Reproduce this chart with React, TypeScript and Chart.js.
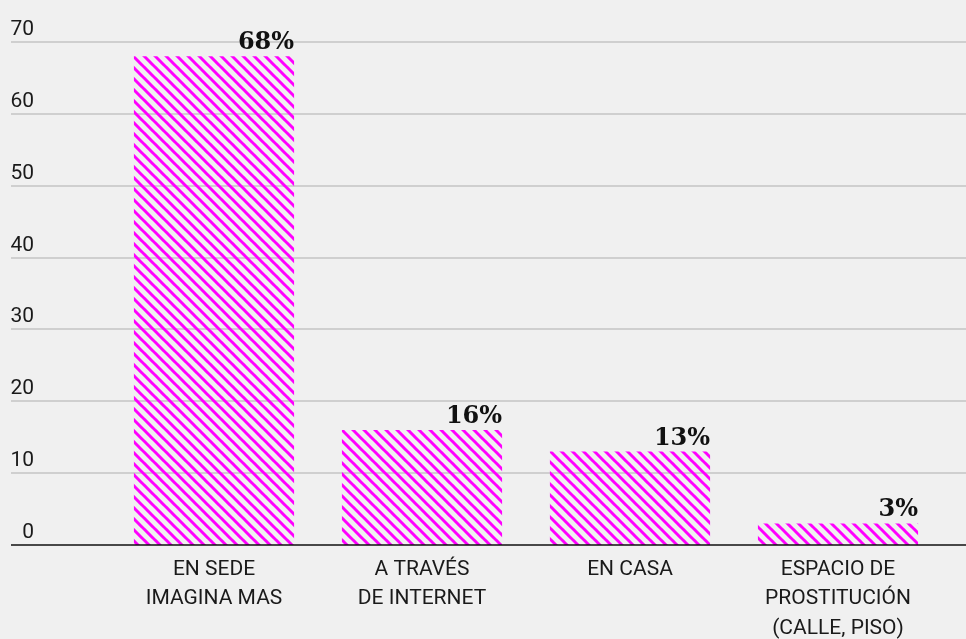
import React, { useEffect, useRef } from "react";
import { Chart, registerables } from "chart.js";

Chart.register(...registerables);

const categories: string[][] = [
  ["EN SEDE", "IMAGINA MAS"],
  ["A TRAVÉS", "DE INTERNET"],
  ["EN CASA"],
  ["ESPACIO DE", "PROSTITUCIÓN", "(CALLE, PISO)"],
];
const values: number[] = [68, 16, 13, 3];
const valueLabels: string[] = ["68%", "16%", "13%", "3%"];
const yTicks: number[] = [0, 10, 20, 30, 40, 50, 60, 70];

const BG = "#f0f0f0";
const MAGENTA = "#ff00ff";

function makePattern(): CanvasPattern | string {
  const s = 11;
  const c = document.createElement("canvas");
  c.width = s;
  c.height = s;
  const ctx = c.getContext("2d");
  if (!ctx) return MAGENTA;
  ctx.strokeStyle = MAGENTA;
  ctx.lineWidth = 3;
  for (let k = -1; k <= 1; k++) {
    ctx.beginPath();
    ctx.moveTo(k * s - 1, -1);
    ctx.lineTo(k * s + s + 1, s + 1);
    ctx.stroke();
  }
  const p = ctx.createPattern(c, "repeat");
  return p || MAGENTA;
}

const decorPlugin = {
  id: "decor",
  beforeDraw(chart: any) {
    const ctx = chart.ctx;
    ctx.save();
    ctx.fillStyle = BG;
    ctx.fillRect(0, 0, chart.width, chart.height);
    ctx.restore();
  },
  beforeDatasetsDraw(chart: any) {
    const ctx = chart.ctx;
    const y = chart.scales.y;
    ctx.save();
    ctx.font = "21px Roboto";
    ctx.textAlign = "right";
    ctx.textBaseline = "alphabetic";
    for (const v of yTicks) {
      const py = Math.round(y.getPixelForValue(v));
      if (v !== 0) {
        ctx.strokeStyle = "#c4c4c4";
        ctx.lineWidth = 1.5;
        ctx.beginPath();
        ctx.moveTo(11, py);
        ctx.lineTo(chart.width, py);
        ctx.stroke();
      }
      ctx.fillStyle = "#1a1a1a";
      ctx.fillText(String(v), 34, py - 7);
    }
    ctx.restore();
  },
  afterDatasetsDraw(chart: any) {
    const ctx = chart.ctx;
    const y = chart.scales.y;
    const meta = chart.getDatasetMeta(0);
    ctx.save();
    const py0 = Math.round(y.getPixelForValue(0));
    ctx.strokeStyle = "#111";
    ctx.lineWidth = 1.5;
    ctx.beginPath();
    ctx.moveTo(11, py0);
    ctx.lineTo(chart.width, py0);
    ctx.stroke();

    ctx.font = "bold 24px 'DejaVu Serif'";
    ctx.textAlign = "right";
    ctx.textBaseline = "alphabetic";
    ctx.fillStyle = "#111";
    meta.data.forEach((bar: any, i: number) => {
      const right = bar.x + bar.width / 2;
      ctx.fillText(valueLabels[i], right, bar.y - 7);
    });
    ctx.restore();
  },
};

export default function App() {
  const ref = useRef<HTMLCanvasElement | null>(null);

  useEffect(() => {
    document.body.style.margin = "0";
    document.body.style.background = BG;
    if (!ref.current) return;
    const chart = new Chart(ref.current, {
      type: "bar",
      data: {
        labels: categories,
        datasets: [
          {
            data: values,
            backgroundColor: makePattern() as any,
            borderWidth: 0,
            barPercentage: 0.77,
            categoryPercentage: 1,
          },
        ],
      },
      options: {
        animation: false,
        responsive: true,
        maintainAspectRatio: false,
        layout: { padding: { top: 42, left: 110, right: 24, bottom: 0 } },
        plugins: {
          legend: { display: false },
          tooltip: { enabled: false },
        },
        scales: {
          x: {
            grid: { display: false, drawTicks: false },
            border: { display: false },
            ticks: {
              padding: 10,
              color: "#1a1a1a",
              font: { family: "Roboto", size: 21, lineHeight: 1.4 },
              maxRotation: 0,
              autoSkip: false,
            },
            afterFit: (scale: any) => {
              scale.height = 94;
            },
          },
          y: {
            display: false,
            min: 0,
            max: 70,
          },
        },
      },
      plugins: [decorPlugin],
    });
    return () => chart.destroy();
  }, []);

  return (
    <div style={{ width: 966, height: 639, position: "relative", background: BG }}>
      <canvas ref={ref} />
    </div>
  );
}
